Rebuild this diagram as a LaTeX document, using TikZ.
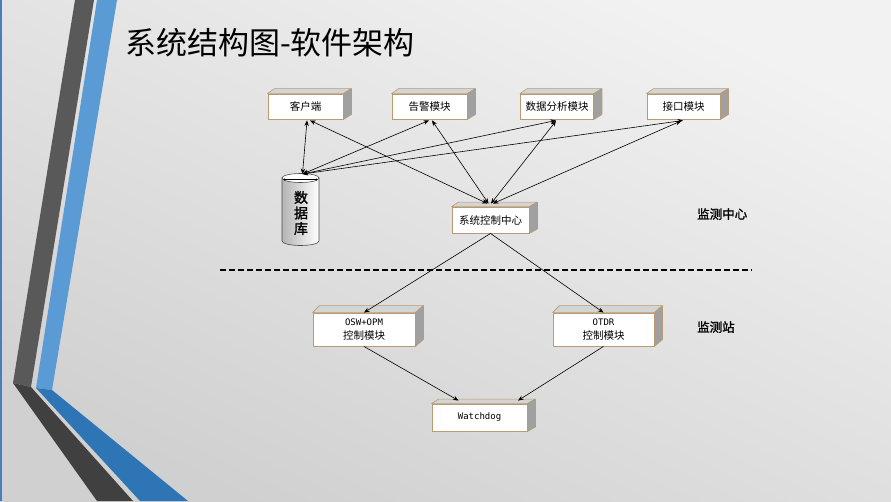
\documentclass[tikz,border=0pt]{standalone}
\usepackage{fontspec}
\setmainfont{Liberation Sans}
\newfontfamily\cjk{Noto Sans CJK SC}
\newfontfamily\cjkb[FakeBold=1.5]{Noto Sans CJK SC}
\newfontfamily\monof{DejaVu Sans Mono}
\usetikzlibrary{arrows.meta,calc}
\definecolor{bgtop}{HTML}{F2F2F2}
\definecolor{bgbot}{HTML}{D0D0D0}
\definecolor{darkA}{HTML}{595959}
\definecolor{darkB}{HTML}{404040}
\definecolor{blueA}{HTML}{5B9BD5}
\definecolor{blueB}{HTML}{2E75B6}
\definecolor{edgeblue}{HTML}{4A7EBB}
\definecolor{boxbrd}{HTML}{B89B72}
\definecolor{topface}{HTML}{D4D4D4}
\definecolor{sideface}{HTML}{A0A0A0}
\definecolor{cylL}{HTML}{B4B4B4}
\tikzset{
  modbox/.style={draw=boxbrd, fill=white, line width=0.9pt, inner sep=0pt,
    font=\cjk\fontsize{10.5}{14}\selectfont, align=center},
  bi/.style={{Stealth[length=5.5pt,width=4.5pt]}-{Stealth[length=5.5pt,width=4.5pt]}, line width=0.6pt, black},
  uni/.style={-{Stealth[length=5.5pt,width=4.5pt]}, line width=0.6pt, black},
  tagtxt/.style={font=\cjkb\fontsize{12.5}{14}\selectfont, anchor=west, inner sep=0pt}
}
\begin{document}
\begin{tikzpicture}[x=1pt,y=-1pt]
\useasboundingbox (0,0) rectangle (891,501);
\shade[top color=bgtop, bottom color=bgbot, shading angle=-25] (0,0) rectangle (891,501);

% left decoration
\fill[darkA] (75,0) -- (94,0) -- (31,387) -- (13,383) -- cycle;
\fill[darkB] (13,383) -- (31,387) -- (133,501) -- (97,501) -- cycle;
\fill[blueA] (97,0) -- (117,0) -- (52,390) -- (36,388) -- cycle;
\fill[blueB] (36,388) -- (52,390) -- (188,501) -- (140,501) -- cycle;
\draw[edgeblue, line width=1.5pt] (0.75,0) -- (0.75,501);

% title
\node[anchor=west, inner sep=0pt, font=\cjk\fontsize{31}{36}\selectfont] (title) at (125,43) {系统结构图-软件架构};

% modules
\node[modbox, minimum width=75pt, minimum height=25pt] (kh) at (305.5,106.5) {客户端};
\node[modbox, minimum width=75pt, minimum height=25pt] (gj) at (429.5,106.5) {告警模块};
\node[modbox, minimum width=73pt, minimum height=25pt] (sj) at (557,106.5) {数据分析模块};
\node[modbox, minimum width=73pt, minimum height=25pt] (jk) at (683.5,106.5) {接口模块};
\node[modbox, minimum width=77pt, minimum height=26pt] (ctr) at (490.5,220) {系统控制中心};
\node[modbox, minimum width=102pt, minimum height=33pt] (osw) at (364,329.5) {{\monof\fontsize{9}{14}\selectfont OSW+OPM}\\控制模块};
\node[modbox, minimum width=101pt, minimum height=33pt] (otdr) at (603.5,329.5) {{\monof\fontsize{9}{14}\selectfont OTDR}\\控制模块};
\node[modbox, minimum width=95pt, minimum height=27pt] (wd) at (479.5,417.5) {{\monof\fontsize{9}{14}\selectfont Watchdog}};

\foreach \n/\d in {kh/5,gj/5,sj/5,jk/5,ctr/4.5,osw/7,otdr/7,wd/4.5}{
  \filldraw[fill=topface, draw=boxbrd, line width=0.6pt, line join=round]
    (\n.north west) -- ($(\n.north west)+(7,-\d)$) -- ($(\n.north east)+(8,-\d)$) -- (\n.north east) -- cycle;
  \filldraw[fill=sideface, draw=boxbrd, line width=0.6pt, line join=round]
    (\n.north east) -- ($(\n.north east)+(8,-\d)$) -- ($(\n.south east)+(8,-\d)$) -- (\n.south east) -- cycle;
}

% database cylinder
\shade[left color=cylL, right color=white, draw=black!70, line width=0.6pt]
  (282,178) -- (282,241) .. controls (282,243.5) and (290.3,245.5) .. (300.5,245.5)
  .. controls (310.7,245.5) and (319,243.5) .. (319,241) -- (319,178) -- cycle;
\filldraw[fill=white, draw=black!70, line width=0.6pt] (300.5,178) ellipse [x radius=18.5pt, y radius=4.5pt];
\draw[black, line width=0.6pt] (284,179.5) -- (317,179.5);
\fill[black] (284.5,179.5) circle [radius=1.2pt];
\fill[black] (316.5,179.5) circle [radius=1.2pt];
\node[inner sep=0pt, align=center, font=\cjkb\fontsize{14}{15.5}\selectfont] (db) at (301,213) {数\\据\\库};
\coordinate (dbt) at (302.5,174);

% connectors top
\draw[bi] ($(kh.south)+(1.5,1)$) -- (dbt);
\draw[bi] ($(kh.south)+(4.5,1)$) -- ($(ctr.north)+(-3,-3)$);
\draw[bi] ($(gj.south)+(-0.5,1)$) -- (dbt);
\draw[bi] ($(gj.south)+(2.5,1)$) -- ($(ctr.north)+(-2,-3)$);
\draw[bi] ($(sj.south)+(-1,1)$) -- (dbt);
\draw[bi] ($(sj.south)+(-1,1.5)$) -- ($(ctr.north)+(0.5,-3)$);
\draw[bi] ($(jk.south)+(-0.5,1)$) -- (dbt);
\draw[bi] ($(jk.south)+(-2.5,1.5)$) -- ($(ctr.north)+(2.5,-3)$);

% separator
\draw[black, line width=1.3pt, dash pattern=on 6pt off 3pt] (220,270) coordinate (sepL) -- (752,270) coordinate (sepR);

% lower connectors
\draw[uni] (ctr.south) -- (osw.north);
\draw[uni] (ctr.south) -- (otdr.north);
\draw[uni] (osw.south) -- ($(wd.north)+(-21,-3)$);
\draw[uni] (otdr.south) -- ($(wd.north)+(38.5,-3)$);

% tags
\node[tagtxt] (lc) at (697,214) {监测中心};
\node[tagtxt] (ls) at (697,327) {监测站};
\end{tikzpicture}
\end{document}
